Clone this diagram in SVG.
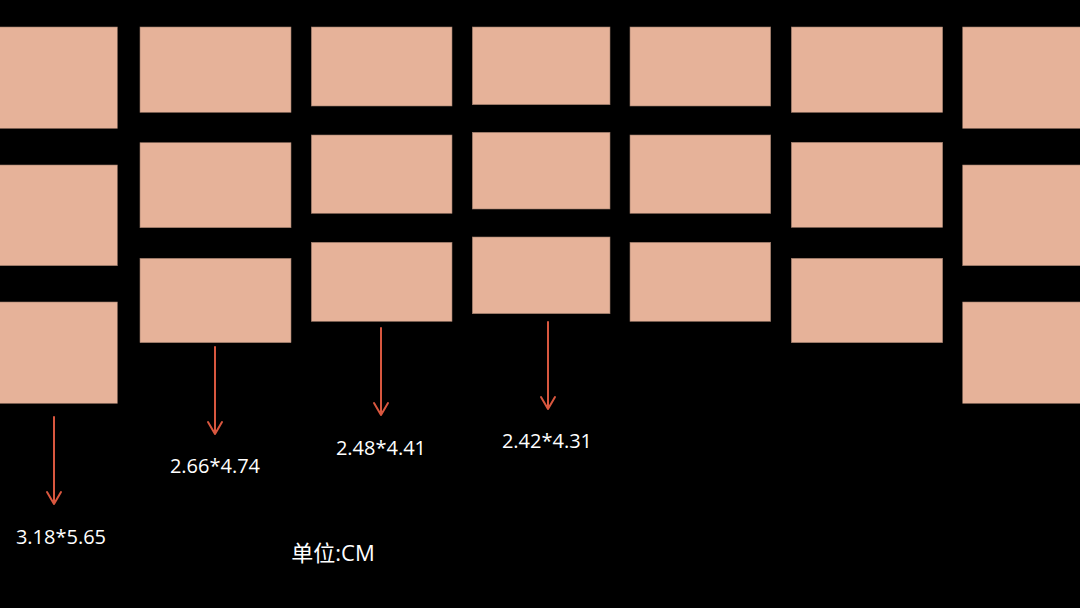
<svg xmlns="http://www.w3.org/2000/svg" width="1080" height="608" viewBox="0 0 1080 608">
<defs>
<style>
.c{fill:#E6B299;stroke:#9a7868;stroke-width:0.6}
.a{stroke:#D9573F;stroke-width:2;fill:none;stroke-linecap:round;stroke-linejoin:round}
.t{fill:#ffffff;font-family:"Open Sans","Liberation Sans","Noto Sans CJK SC",sans-serif;font-size:20px;text-anchor:middle}
.u{font-size:22px}
</style>
</defs>
<rect width="1080" height="608" fill="#000"/>
<g id="col1"><rect class="c" x="-1" y="27" width="118.3" height="101.3"/><rect class="c" x="-1" y="165" width="118.3" height="100.7"/><rect class="c" x="-1" y="302" width="118.3" height="101.3"/></g>
<g id="col2"><rect class="c" x="140" y="27" width="151" height="85.3"/><rect class="c" x="140" y="142.7" width="151" height="85"/><rect class="c" x="140" y="258.3" width="151" height="84.4"/></g>
<g id="col3"><rect class="c" x="311.3" y="27" width="140.7" height="79"/><rect class="c" x="311.3" y="135" width="140.7" height="78.3"/><rect class="c" x="311.3" y="242.3" width="140.7" height="79"/></g>
<g id="col4"><rect class="c" x="472.3" y="27" width="137.7" height="77.7"/><rect class="c" x="472.3" y="132.3" width="137.7" height="76.7"/><rect class="c" x="472.3" y="237" width="137.7" height="76.7"/></g>
<g id="col5"><rect class="c" x="630" y="27" width="140.7" height="79"/><rect class="c" x="630" y="135" width="140.7" height="78.3"/><rect class="c" x="630" y="242.3" width="140.7" height="79"/></g>
<g id="col6"><rect class="c" x="791.3" y="27" width="151.4" height="85.3"/><rect class="c" x="791.3" y="142.3" width="151.4" height="85"/><rect class="c" x="791.3" y="258.3" width="151.4" height="84.4"/></g>
<g id="col7"><rect class="c" x="962.7" y="27" width="118.3" height="101.3"/><rect class="c" x="962.7" y="165" width="118.3" height="100.7"/><rect class="c" x="962.7" y="302" width="118.3" height="101.3"/></g>
<g id="connectors">
<path class="a" d="M54 417V504M47 492L54 504L61 492"/>
<path class="a" d="M215 347V434M208 422L215 434L222 422"/>
<path class="a" d="M381 328V415M374 403L381 415L388 403"/>
<path class="a" d="M548 322V409M541 397L548 409L555 397"/>
</g>
<g id="labels">
<text class="t" x="61" y="544">3.18*5.65</text>
<text class="t" x="215" y="473">2.66*4.74</text>
<text class="t" x="381" y="455">2.48*4.41</text>
<text class="t" x="547" y="448">2.42*4.31</text>
<text class="t u" x="333" y="561">单位:CM</text>
</g>
</svg>
